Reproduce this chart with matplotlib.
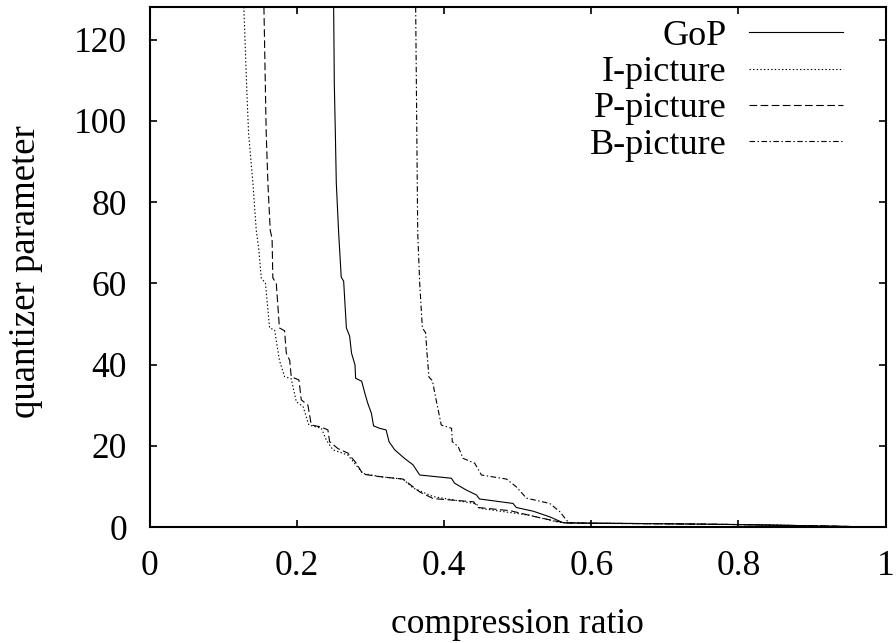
import numpy as np
from matplotlib import pyplot as plt

# values (compression ratio, quantizer parameter)
gop_x = [0.2497, 0.2506, 0.252, 0.2533, 0.2565, 0.260, 0.2633, 0.267, 0.2714,
         0.274, 0.2787, 0.2796, 0.2878, 0.292, 0.296, 0.301, 0.304, 0.312,
         0.321, 0.325, 0.3327, 0.346, 0.3576, 0.3667, 0.4098, 0.414, 0.430,
         0.4438, 0.448, 0.4936, 0.498, 0.5208, 0.5435, 0.5616, 0.60, 0.70,
         0.80, 0.90, 0.97]
gop_y = [128, 109, 97, 84.7, 72.4, 61.5, 60.5, 49, 47, 42.8, 39.9, 36.6, 35.9,
         33.0, 30.5, 28, 24.9, 24.3, 23.9, 21, 19, 16.9, 15.3, 12.8, 12, 10.8,
         9.1, 7.9, 6.9, 5.8, 4.8, 3.9, 2.5, 1.06, 0.95, 0.8, 0.6, 0.3, 0.05]

i_x = [0.1276, 0.1313, 0.134, 0.1399, 0.1445, 0.148, 0.1513, 0.157, 0.1626,
       0.1694, 0.176, 0.183, 0.192, 0.199, 0.208, 0.216, 0.233, 0.2397,
       0.2487, 0.269, 0.2895, 0.3122, 0.344, 0.3576, 0.3848, 0.4438, 0.448,
       0.516, 0.5526, 0.564, 0.60, 0.70, 0.80, 0.90, 0.97]
i_y = [128, 109, 97, 84.7, 73, 68.2, 61.3, 60, 49, 48.5, 41, 37, 36.5, 30.8,
       29.7, 25.1, 24.3, 21.4, 19, 17.7, 13.2, 12.4, 11.8, 9.6, 7.5, 5.7, 4.6,
       2.9, 1.3, 1.0, 0.9, 0.8, 0.6, 0.3, 0.05]

p_x = [0.1549, 0.158, 0.1603, 0.1635, 0.166, 0.167, 0.1717, 0.176, 0.183,
       0.1853, 0.19, 0.192, 0.2025, 0.2057, 0.2147, 0.2193, 0.233, 0.2419,
       0.2442, 0.2555, 0.269, 0.2805, 0.2895, 0.3122, 0.344, 0.367, 0.385,
       0.44, 0.446, 0.49, 0.52, 0.55, 0.566, 0.60, 0.70, 0.80, 0.90, 0.97]
p_y = [128, 97, 84.7, 73, 71, 61.3, 60, 49, 48.3, 42.8, 41, 37, 36.2, 31.3,
       30, 25.1, 24.6, 23.9, 21, 19.3, 18.2, 15.7, 13, 12.4, 11.8, 8.6, 7.0,
       6.2, 4.8, 4.0, 2.7, 1.5, 1.0, 0.9, 0.8, 0.6, 0.3, 0.05]

b_x = [0.3612, 0.364, 0.3667, 0.3703, 0.3748, 0.3766, 0.3793, 0.384, 0.389,
       0.396, 0.41, 0.411, 0.419, 0.4256, 0.4415, 0.4506, 0.4846, 0.498,
       0.5118, 0.5435, 0.557, 0.5662, 0.5698, 0.60, 0.70, 0.80, 0.90, 0.97]
b_y = [128, 72.4, 60, 49, 47.8, 42.8, 36.9, 36, 31.3, 25.1, 24.3, 21, 19.8,
       16.9, 15.7, 12.8, 11.8, 9.9, 7.1, 5.8, 3.8, 1.7, 1.0, 0.95, 0.8, 0.6,
       0.3, 0.05]

plt.rcParams['font.family'] = ['Liberation Serif', 'DejaVu Serif']
plt.rcParams['lines.scale_dashes'] = False

fig = plt.figure(figsize=(8.96, 6.43), dpi=100)
ax = fig.add_axes([0.1674, 0.1804, 0.8209, 0.8087])

ax.plot(gop_x, gop_y, color='black', lw=0.8, linestyle='-', label='GoP')
ax.plot(i_x, i_y, color='black', lw=0.8, linestyle=(0, (1, 1.6)), label='I-picture')
ax.plot(p_x, p_y, color='black', lw=0.8, linestyle=(0, (5.5, 2.5)), label='P-picture')
ax.plot(b_x, b_y, color='black', lw=0.8, linestyle=(0, (4, 1.8, 1, 1.8)), label='B-picture')

ax.set_xlim(0, 1)
ax.set_ylim(0, 128)
ax.set_xticks([0, 0.2, 0.4, 0.6, 0.8, 1])
ax.set_xticklabels(['0', '0.2', '0.4', '0.6', '0.8', '1'])
ax.set_yticks(np.arange(0, 121, 20))
ax.tick_params(direction='in', length=5, width=1.2, labelsize=25.5,
               top=True, right=True, pad=16.5)
for s in ax.spines.values():
    s.set_linewidth(1.5)

ax.set_xlabel('compression ratio', fontsize=25.5, labelpad=18)
ax.set_ylabel('quantizer parameter', fontsize=26.5)
ax.yaxis.set_label_coords(-0.146, 0.492)

leg = ax.legend(loc='upper right', bbox_to_anchor=(0.977, 1.024), frameon=False,
                markerfirst=False, fontsize=26, handlelength=2.6,
                handletextpad=0.64, labelspacing=0.08, borderpad=0.2)
for t in leg.get_texts():
    t.set_ha('right')

fig.savefig('out.png', dpi=100)
